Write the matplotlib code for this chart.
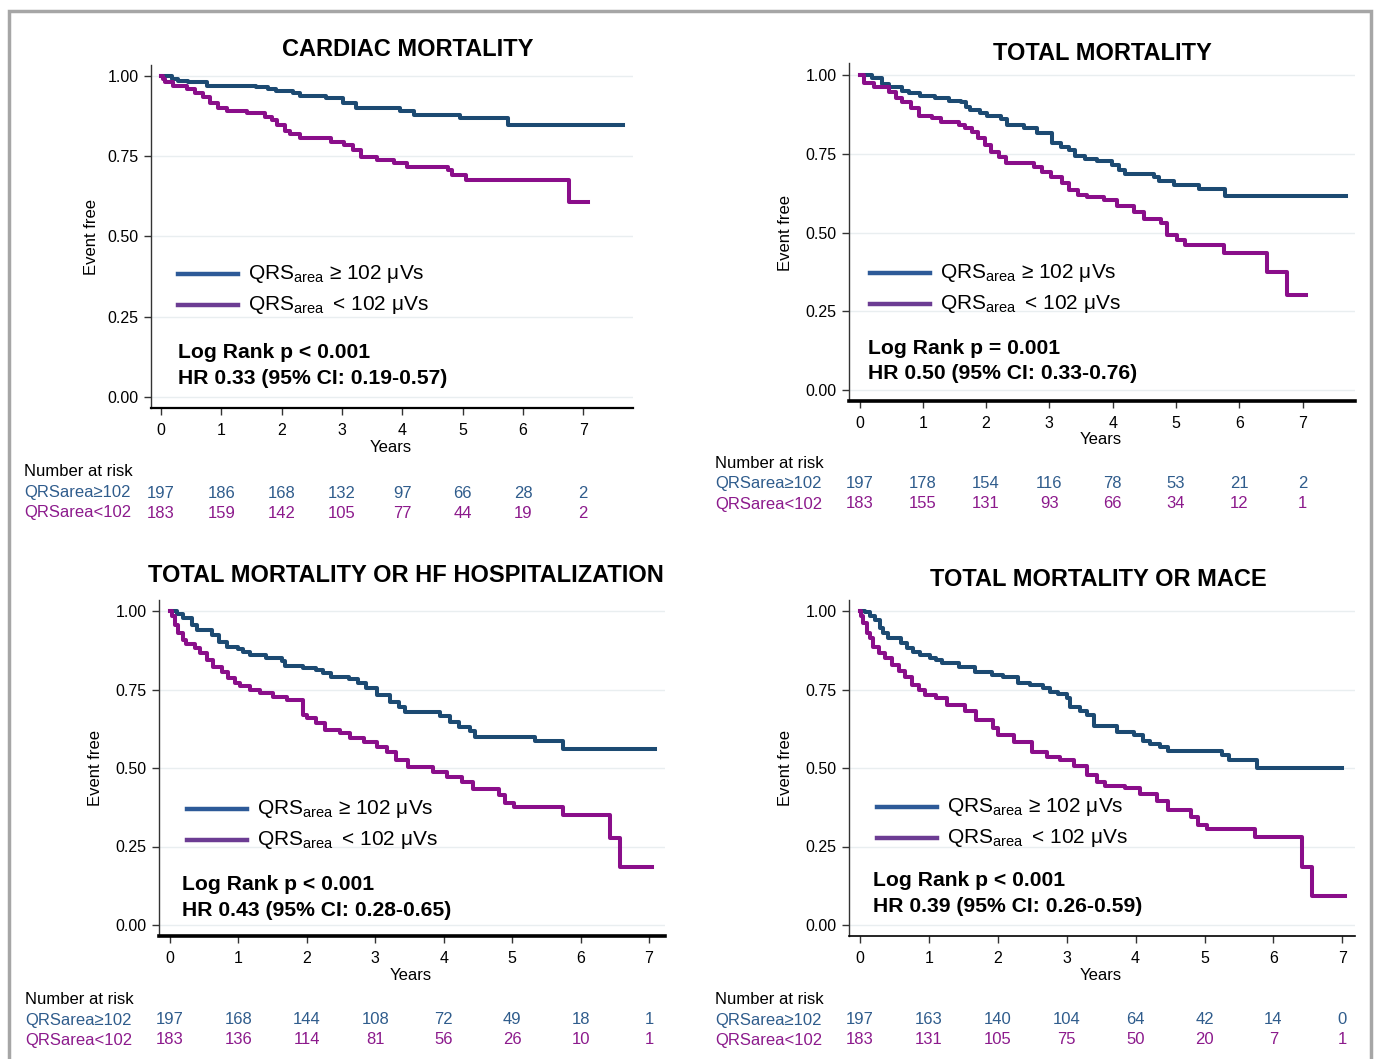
import numpy as np
import matplotlib
matplotlib.use('Agg')
import matplotlib.pyplot as plt
from matplotlib.lines import Line2D
from matplotlib.patches import Rectangle
from matplotlib.transforms import blended_transform_factory

plt.rcParams['font.family'] = ['Liberation Sans', 'DejaVu Sans']
plt.rcParams['mathtext.fontset'] = 'custom'
plt.rcParams['mathtext.rm'] = 'Liberation Sans'

W, H = 1375, 1059

# ---------------- data ----------------
titles = ['CARDIAC MORTALITY', 'TOTAL MORTALITY',
          'TOTAL MORTALITY OR HF HOSPITALIZATION', 'TOTAL MORTALITY OR MACE']
logrank = ['Log Rank p < 0.001', 'Log Rank p = 0.001',
           'Log Rank p < 0.001', 'Log Rank p < 0.001']
hr_text = ['HR 0.33 (95% CI: 0.19-0.57)', 'HR 0.50 (95% CI: 0.33-0.76)',
           'HR 0.43 (95% CI: 0.28-0.65)', 'HR 0.39 (95% CI: 0.26-0.59)']
years = [0, 1, 2, 3, 4, 5, 6, 7]
y_ticks = [0.0, 0.25, 0.5, 0.75, 1.0]
group_labels = ['QRSarea\u2265102', 'QRSarea<102']

# cardiac mortality
t_card_hi = [0, 0.18, 0.29, 0.45, 0.76, 1.58, 1.78, 1.91, 2.19, 2.30, 2.74, 3.02, 3.24,
             3.96, 4.20, 4.95, 5.75, 7.65]
s_card_hi = [1.0, 0.99, 0.985, 0.98, 0.97, 0.965, 0.958, 0.953, 0.947, 0.937, 0.93, 0.917,
             0.90, 0.89, 0.88, 0.868, 0.846, 0.846]
t_card_lo = [0, 0.03, 0.07, 0.2, 0.43, 0.56, 0.70, 0.81, 0.95, 1.09, 1.42, 1.73, 1.84, 1.92,
             2.06, 2.14, 2.31, 2.81, 3.03, 3.19, 3.31, 3.58, 3.86, 4.08, 4.75, 4.83, 5.05,
             6.77, 7.07]
s_card_lo = [1.0, 0.99, 0.98, 0.969, 0.958, 0.946, 0.935, 0.915, 0.90, 0.89, 0.884, 0.873,
             0.863, 0.847, 0.829, 0.819, 0.806, 0.793, 0.785, 0.769, 0.749, 0.738, 0.728,
             0.717, 0.707, 0.692, 0.676, 0.608, 0.608]

# total mortality
t_tot_hi = [0, 0.20, 0.36, 0.46, 0.67, 0.78, 0.96, 1.20, 1.41, 1.60, 1.69, 1.75, 1.91, 2.02,
            2.23, 2.33, 2.60, 2.81, 3.04, 3.18, 3.31, 3.41, 3.57, 3.75, 3.99, 4.10, 4.20,
            4.65, 4.73, 4.97, 5.36, 5.78, 7.68]
s_tot_hi = [1.0, 0.99, 0.971, 0.961, 0.95, 0.942, 0.933, 0.926, 0.918, 0.913, 0.90, 0.889,
            0.878, 0.87, 0.859, 0.841, 0.833, 0.815, 0.783, 0.770, 0.762, 0.743, 0.732,
            0.727, 0.714, 0.70, 0.686, 0.677, 0.664, 0.651, 0.638, 0.616, 0.616]
t_tot_lo = [0, 0.07, 0.23, 0.46, 0.57, 0.67, 0.81, 0.94, 1.15, 1.28, 1.57, 1.67, 1.78, 1.88,
            1.99, 2.07, 2.20, 2.31, 2.75, 2.89, 3.02, 3.20, 3.31, 3.46, 3.60, 3.86, 4.07,
            4.33, 4.49, 4.76, 4.86, 5.02, 5.15, 5.76, 6.44, 6.76, 7.05]
s_tot_lo = [1.0, 0.974, 0.961, 0.947, 0.926, 0.915, 0.894, 0.870, 0.862, 0.852, 0.841,
            0.831, 0.82, 0.799, 0.778, 0.757, 0.741, 0.722, 0.709, 0.693, 0.677, 0.658,
            0.635, 0.619, 0.612, 0.603, 0.584, 0.566, 0.542, 0.529, 0.492, 0.476, 0.460,
            0.436, 0.376, 0.302, 0.302]

# total mortality or HF hospitalization
t_hf_hi = [0, 0.10, 0.195, 0.317, 0.39, 0.61, 0.71, 0.83, 1.00, 1.07, 1.17, 1.41, 1.63,
           1.68, 1.95, 2.14, 2.24, 2.36, 2.61, 2.75, 2.87, 3.02, 3.21, 3.34, 3.43, 3.95,
           4.09, 4.22, 4.39, 4.46, 5.34, 5.75, 7.09]
s_hf_hi = [1.0, 0.992, 0.977, 0.955, 0.939, 0.924, 0.902, 0.886, 0.878, 0.87, 0.86, 0.849,
           0.841, 0.826, 0.819, 0.812, 0.802, 0.791, 0.783, 0.77, 0.756, 0.732, 0.711,
           0.695, 0.677, 0.667, 0.647, 0.632, 0.618, 0.60, 0.586, 0.562, 0.562]
t_hf_lo = [0, 0.03, 0.07, 0.12, 0.195, 0.24, 0.37, 0.44, 0.54, 0.63, 0.76, 0.85, 0.95, 1.02,
           1.17, 1.32, 1.51, 1.71, 1.95, 2.0, 2.14, 2.27, 2.49, 2.63, 2.83, 3.02, 3.17,
           3.31, 3.48, 3.85, 4.05, 4.26, 4.43, 4.81, 4.90, 5.02, 5.75, 6.43, 6.58, 7.04]
s_hf_lo = [1.0, 0.985, 0.955, 0.929, 0.908, 0.894, 0.881, 0.865, 0.844, 0.823, 0.805,
           0.786, 0.772, 0.762, 0.748, 0.738, 0.727, 0.717, 0.669, 0.658, 0.642, 0.621,
           0.61, 0.595, 0.584, 0.568, 0.552, 0.525, 0.504, 0.488, 0.472, 0.456, 0.433,
           0.414, 0.388, 0.375, 0.35, 0.278, 0.186, 0.186]

# total mortality or MACE
t_mace_hi = [0, 0.07, 0.145, 0.22, 0.29, 0.34, 0.41, 0.60, 0.68, 0.77, 0.87, 1.02, 1.11,
             1.19, 1.43, 1.67, 1.91, 2.08, 2.30, 2.47, 2.66, 2.76, 2.88, 3.0, 3.05, 3.19,
             3.29, 3.39, 3.73, 3.97, 4.11, 4.21, 4.35, 4.47, 5.25, 5.35, 5.76, 6.99]
s_mace_hi = [1.0, 0.996, 0.985, 0.971, 0.945, 0.929, 0.913, 0.897, 0.881, 0.868, 0.860,
             0.851, 0.844, 0.833, 0.823, 0.805, 0.796, 0.791, 0.770, 0.764, 0.754, 0.743,
             0.735, 0.722, 0.695, 0.681, 0.669, 0.634, 0.616, 0.605, 0.587, 0.577, 0.566,
             0.555, 0.542, 0.524, 0.499, 0.499]
t_mace_lo = [0, 0.02, 0.05, 0.10, 0.145, 0.19, 0.27, 0.36, 0.46, 0.56, 0.65, 0.75, 0.85,
             0.94, 1.11, 1.26, 1.52, 1.69, 1.93, 2.01, 2.23, 2.49, 2.71, 2.90, 3.10, 3.29,
             3.44, 3.56, 3.85, 4.06, 4.31, 4.47, 4.81, 4.91, 5.03, 5.73, 6.41, 6.56, 7.04]
s_mace_lo = [1.0, 0.985, 0.961, 0.929, 0.913, 0.886, 0.865, 0.849, 0.828, 0.809, 0.791,
             0.764, 0.748, 0.732, 0.722, 0.701, 0.680, 0.653, 0.627, 0.605, 0.584, 0.552,
             0.534, 0.524, 0.505, 0.478, 0.457, 0.443, 0.436, 0.417, 0.395, 0.366, 0.345,
             0.318, 0.305, 0.279, 0.186, 0.093, 0.093]

# number at risk
risk_card_hi = [197, 186, 168, 132, 97, 66, 28, 2]
risk_card_lo = [183, 159, 142, 105, 77, 44, 19, 2]
risk_tot_hi = [197, 178, 154, 116, 78, 53, 21, 2]
risk_tot_lo = [183, 155, 131, 93, 66, 34, 12, 1]
risk_hf_hi = [197, 168, 144, 108, 72, 49, 18, 1]
risk_hf_lo = [183, 136, 114, 81, 56, 26, 10, 1]
risk_mace_hi = [197, 163, 140, 104, 64, 42, 14, 0]
risk_mace_lo = [183, 131, 105, 75, 50, 20, 7, 1]

curves = [(t_card_hi, s_card_hi, t_card_lo, s_card_lo),
          (t_tot_hi, s_tot_hi, t_tot_lo, s_tot_lo),
          (t_hf_hi, s_hf_hi, t_hf_lo, s_hf_lo),
          (t_mace_hi, s_mace_hi, t_mace_lo, s_mace_lo)]
risks = [(risk_card_hi, risk_card_lo), (risk_tot_hi, risk_tot_lo),
         (risk_hf_hi, risk_hf_lo), (risk_mace_hi, risk_mace_lo)]

# ---------------- layout (pixels) ----------------
# axes box: left, top, right, bottom ; pixel of x=0, x=7 ; pixel of y=1, y=0
boxes = [(151, 65, 633, 408), (849, 63, 1355, 401),
         (159, 600, 665, 936), (849, 600, 1355, 936)]
xpix = [(161, 583.3), (859.5, 1302.5), (170, 649), (860, 1342.3)]
ypix = [(76, 397), (75, 390), (611, 925), (611, 925)]
title_pos = [(408, 49), (1102, 54), (406, 575), (1098, 579)]
years_pos = [(391, 447), (1101, 439), (411, 975), (1101, 975)]
ylab_pos = [(92, 237), (786, 233), (96, 768), (786, 768)]
leg_pos = [(178, 274), (870, 273), (187, 809), (877, 807)]
ann_pos = [(178, 352), (868, 348), (182, 884), (873, 881)]
risk_pos = [(24, 472), (715, 463), (25, 999), (715, 999)]
bottom_lw = [1.6, 2.6, 2.6, 1.2]

c_hi = '#1c4a72'
c_lo = '#8a0e8a'
c_leg_hi = '#2d5a98'
c_leg_lo = '#6c3c93'
c_txt_hi = '#2f5c8c'
c_txt_lo = '#8c1a8c'


def fx(px):
    return px / W


def fy(py):
    return 1 - py / H


fig = plt.figure(figsize=(W / 100, H / 100), dpi=100)
fig.patch.set_facecolor('white')

for i in range(4):
    l, t, r, b = boxes[i]
    ax = fig.add_axes([fx(l), fy(b), (r - l) / W, (b - t) / H])
    x0, x7 = xpix[i]
    k = (x7 - x0) / 7
    ax.set_xlim((l - x0) / k, (r - x0) / k)
    y1, y0 = ypix[i]
    ky = y0 - y1
    ax.set_ylim((y0 - b) / ky, (y0 - t) / ky)

    for yv in y_ticks:
        ax.axhline(yv, color='#e9eef0', lw=1.0, zorder=0)

    th, sh, tl, sl = curves[i]
    ax.step(th, sh, where='post', color=c_hi, lw=2.9, zorder=3)
    ax.step(tl, sl, where='post', color=c_lo, lw=2.9, zorder=3)

    ax.spines['top'].set_visible(False)
    ax.spines['right'].set_visible(False)
    ax.spines['left'].set_color('#333333')
    ax.spines['left'].set_linewidth(1.0)
    ax.spines['bottom'].set_color('black')
    ax.spines['bottom'].set_linewidth(bottom_lw[i])
    ax.set_xticks(years)
    ax.set_yticks(y_ticks)
    ax.set_yticklabels(['%.2f' % v for v in y_ticks])
    ax.tick_params(direction='out', length=5, width=1, labelsize=11.5, color='#333333',
                   pad=4)
    ax.tick_params(axis='x', pad=6)

    fig.text(fx(title_pos[i][0]), fy(title_pos[i][1]), titles[i], fontsize=17,
             fontweight='bold', ha='center', va='center',
             bbox=dict(facecolor='white', edgecolor='none', pad=1) if i == 1 else None)
    fig.text(fx(years_pos[i][0]), fy(years_pos[i][1]), 'Years', fontsize=12,
             ha='center', va='center')
    fig.text(fx(ylab_pos[i][0]), fy(ylab_pos[i][1]), 'Event free', fontsize=12,
             rotation=90, ha='center', va='center')

    # legend
    lx, ly = leg_pos[i]
    fig.add_artist(Line2D([fx(lx), fx(lx + 60)], [fy(ly), fy(ly)], color=c_leg_hi,
                          lw=3.2, transform=fig.transFigure))
    fig.add_artist(Line2D([fx(lx), fx(lx + 60)], [fy(ly + 31), fy(ly + 31)], color=c_leg_lo,
                          lw=3.2, transform=fig.transFigure))
    fig.text(fx(lx + 70), fy(ly), 'QRS$_{\\mathregular{area}}$ \u2265 102 \u03bcVs',
             fontsize=15, ha='left', va='center')
    fig.text(fx(lx + 70), fy(ly + 31), 'QRS$_{\\mathregular{area}}\\,$ < 102 \u03bcVs',
             fontsize=15, ha='left', va='center')

    ax_, ay_ = ann_pos[i]
    fig.text(fx(ax_), fy(ay_), logrank[i], fontsize=15.2, fontweight='bold',
             ha='left', va='center')
    fig.text(fx(ax_), fy(ay_ + 26), hr_text[i], fontsize=15.2, fontweight='bold',
             ha='left', va='center')

    # number at risk table
    rx, ry = risk_pos[i]
    fig.text(fx(rx), fy(ry), 'Number at risk', fontsize=12, ha='left', va='center')
    fig.text(fx(rx), fy(ry + 21), group_labels[0], fontsize=12, color=c_txt_hi,
             ha='left', va='center')
    fig.text(fx(rx), fy(ry + 41), group_labels[1], fontsize=12, color=c_txt_lo,
             ha='left', va='center')
    trans = blended_transform_factory(ax.transData, fig.transFigure)
    hi, lo = risks[i]
    for yr, nh, nl in zip(years, hi, lo):
        ax.text(yr, fy(ry + 21), str(nh), transform=trans, fontsize=12, color=c_txt_hi,
                ha='center', va='center', clip_on=False)
        ax.text(yr, fy(ry + 41), str(nl), transform=trans, fontsize=12, color=c_txt_lo,
                ha='center', va='center', clip_on=False)

# outer grey frame
fig.add_artist(Rectangle((fx(9), fy(1075)), (1371 - 9) / W, (1075 - 11) / H,
                         transform=fig.transFigure, fill=False, edgecolor='#a6a6a6',
                         lw=2.5))

fig.savefig('out.png', dpi=100)
